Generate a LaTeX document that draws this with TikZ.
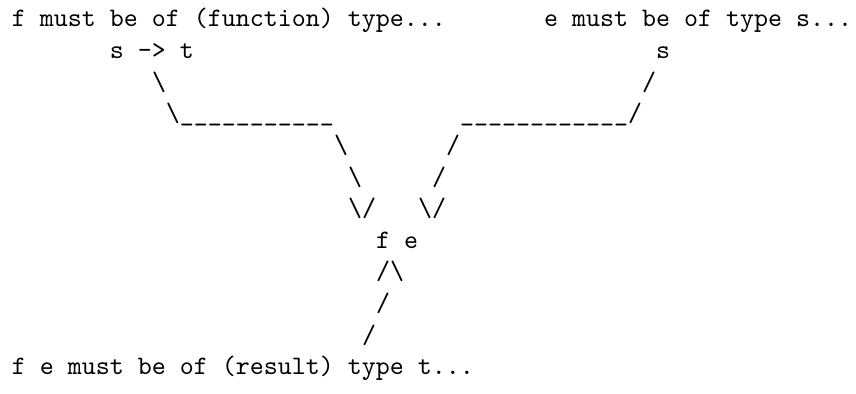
\documentclass[tikz,border=0pt]{standalone}
\usepackage{fontspec}
\tikzset{art/.style={inner sep=0pt, outer sep=0pt, anchor=base west, font=\ttfamily\fontsize{10}{12}\selectfont}}
\newcommand{\bs}{\textbackslash}
\newcommand{\us}{\_}
\begin{document}
\begin{tikzpicture}[x=5.25pt,y=-11.86pt]
\useasboundingbox (-0.857,-0.852) rectangle (60.286,11.577);
\node[art] (t1) at (0,0) {f must be of (function) type...};
\node[art] (t2) at (38,0) {e must be of type s...};
\node[art] (st) at (7,1) {s -> t};
\node[art] (s) at (46,1) {s};
\node[art] (l3) at (10,2) {\bs};
\node[art] (r3) at (45,2) {/};
\node[art] (l4) at (11,3) {\bs\us\us\us\us\us\us\us\us\us\us\us};
\node[art] (r4) at (32,3) {\us\us\us\us\us\us\us\us\us\us\us\us/};
\node[art] (l5) at (23,4) {\bs};
\node[art] (r5) at (31,4) {/};
\node[art] (l6) at (24,5) {\bs};
\node[art] (r6) at (30,5) {/};
\node[art] (l7) at (24,6) {\bs/};
\node[art] (r7) at (29,6) {\bs/};
\node[art] (fe) at (26,7) {f e};
\node[art] (m9) at (26,8) {/\bs};
\node[art] (m10) at (26,9) {/};
\node[art] (m11) at (25,10) {/};
\node[art] (t3) at (0,11) {f e must be of (result) type t...};
\end{tikzpicture}
\end{document}
